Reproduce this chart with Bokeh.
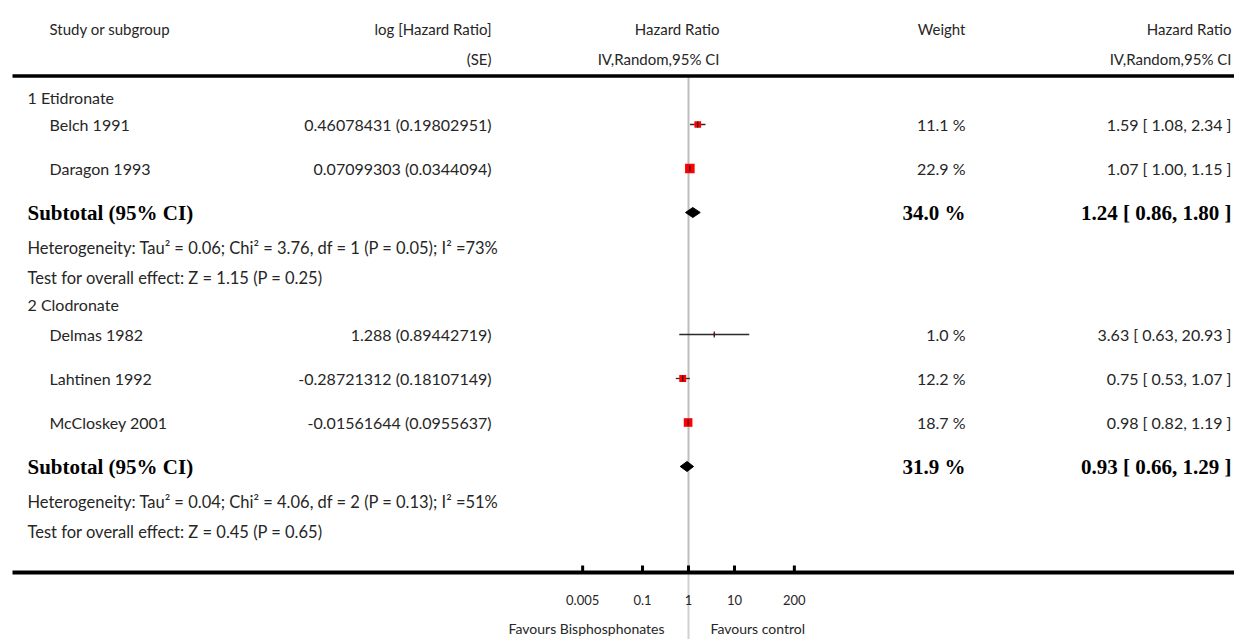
from bokeh.plotting import figure
from bokeh.models import Range1d, LogScale
from bokeh.core.properties import value
from bokeh.embed import file_html
from bokeh.resources import INLINE
import math

# ---------------- data ----------------
group_names = ["1 Etidronate", "2 Clodronate"]
studies = ["Belch 1991", "Daragon 1993", "Delmas 1982", "Lahtinen 1992", "McCloskey 2001"]
log_hr = [0.46078431, 0.07099303, 1.288, -0.28721312, -0.01561644]
log_se = [0.19802951, 0.0344094, 0.89442719, 0.18107149, 0.0955637]
weights = [11.1, 22.9, 1.0, 12.2, 18.7]
hr = [1.59, 1.07, 3.63, 0.75, 0.98]
hr_lo = [1.08, 1.00, 0.63, 0.53, 0.82]
hr_hi = [2.34, 1.15, 20.93, 1.07, 1.19]
sub_weight = [34.0, 31.9]
sub_hr = [1.24, 0.93]
sub_lo = [0.86, 0.66]
sub_hi = [1.80, 1.29]
heterogeneity = [
    "Heterogeneity: Tau\u00b2 = 0.06; Chi\u00b2 = 3.76, df = 1 (P = 0.05); I\u00b2 =73%",
    "Heterogeneity: Tau\u00b2 = 0.04; Chi\u00b2 = 4.06, df = 2 (P = 0.13); I\u00b2 =51%",
]
overall = [
    "Test for overall effect: Z = 1.15 (P = 0.25)",
    "Test for overall effect: Z = 0.45 (P = 0.65)",
]
tick_values = [0.005, 0.1, 1, 10, 200]
tick_labels = ["0.005", "0.1", "1", "10", "200"]
favours = ["Favours Bisphosphonates", "Favours control"]

# ---------------- layout (rows, columns) ----------------
W, H = 1234, 639
study_rows = [124, 168, 334, 378, 422]
group_rows = [97, 304]
sub_rows = [212, 466]
het_rows = [247, 501]
test_rows = [277, 531]
head_rows = [28, 58]
top_rule, axis_row, tick_row, fav_row = 75.5, 572, 599, 628
x_group, x_study, x_se, x_plot_hdr, x_weight, x_ci = 27, 49, 491, 719, 965, 1231
hr_one_px, px_per_decade = 688, 46

FONT = value("Lato")
SERIF = value("Liberation Serif")
TXT = "#262626"
FS = "16px"
FS_NOTE = "16.5px"
FS_HEAD = "15px"
FS_SUB = "21px"

p = figure(width=W, height=H, output_backend="svg", toolbar_location=None,
           x_range=Range1d(0, W), y_range=Range1d(H, 0),
           x_axis_location=None, y_axis_location=None, min_border=0,
           outline_line_color=None, background_fill_color="white")
p.grid.visible = False
p.extra_x_ranges = {"hr": Range1d(10 ** (-hr_one_px / px_per_decade),
                                  10 ** ((W - hr_one_px) / px_per_decade))}
p.extra_x_scales = {"hr": LogScale()}

# line of no effect
p.segment(x0=[1], x1=[1], y0=[top_rule], y1=[axis_row], x_range_name="hr",
          line_color="#bdbdbd", line_width=2)
p.segment(x0=[1], x1=[1], y0=[axis_row], y1=[H], x_range_name="hr",
          line_color="#d0d0d0", line_width=2)

# rules
p.segment(x0=[12], x1=[W], y0=[top_rule], y1=[top_rule], line_color="black", line_width=3.5)
p.segment(x0=[12], x1=[W], y0=[axis_row], y1=[axis_row], line_color="black", line_width=4)


def txt(x, y, t, align, size=FS, font=FONT, style="normal", color=TXT, **kw):
    p.text(x=x, y=y, text=t, text_align=align, text_baseline="middle",
           text_font=font, text_font_size=size, text_font_style=style,
           text_color=color, **kw)


# header
txt([x_study], [head_rows[0]], ["Study or subgroup"], "left", size=FS_HEAD)
txt([x_se, x_se], head_rows, ["log [Hazard Ratio]", "(SE)"], "right", size=FS_HEAD)
txt([x_plot_hdr, x_plot_hdr], head_rows, ["Hazard Ratio", "IV,Random,95% CI"], "right",
    size=FS_HEAD)
txt([x_weight], [head_rows[0]], ["Weight"], "right", size=FS_HEAD)
txt([x_ci, x_ci], head_rows, ["Hazard Ratio", "IV,Random,95% CI"], "right", size=FS_HEAD)

# groups and notes
txt([x_group] * 2, group_rows, group_names, "left")
txt([x_group] * 2, het_rows, heterogeneity, "left", size=FS_NOTE)
txt([x_group] * 2, test_rows, overall, "left", size=FS_NOTE)

# studies
txt([x_study] * len(studies), study_rows, studies, "left")
txt([x_se] * len(studies), study_rows,
    [f"{a} ({b})" for a, b in zip(log_hr, log_se)], "right")
txt([x_weight] * len(studies), study_rows, [f"{w:.1f} %" for w in weights], "right")
txt([x_ci] * len(studies), study_rows,
    [f"{h:.2f} [ {l:.2f}, {u:.2f} ]" for h, l, u in zip(hr, hr_lo, hr_hi)], "right")

# CI lines, squares, point ticks
p.segment(x0=hr_lo, x1=hr_hi, y0=study_rows, y1=study_rows, x_range_name="hr",
          line_color="#2a2a2a", line_width=1.3)
p.scatter(x=hr, y=study_rows, marker="square", x_range_name="hr",
          size=[2.0 * math.sqrt(w) for w in weights], fill_color="#ff0000", line_color=None)
p.segment(x0=hr, x1=hr, y0=[y - 3 for y in study_rows], y1=[y + 3 for y in study_rows],
          x_range_name="hr", line_color="#1a1a1a", line_width=1.2)

# subtotals
txt([x_group] * 2, sub_rows, ["Subtotal (95% CI)"] * 2, "left", size=FS_SUB, font=SERIF,
    style="bold", color="black")
txt([x_weight] * 2, sub_rows, [f"{w:.1f} %" for w in sub_weight], "right", size=FS_SUB,
    font=SERIF, style="bold", color="black")
txt([x_ci] * 2, sub_rows,
    [f"{h:.2f} [ {l:.2f}, {u:.2f} ]" for h, l, u in zip(sub_hr, sub_lo, sub_hi)], "right",
    size=FS_SUB, font=SERIF, style="bold", color="black")
p.patches(xs=[[l, h, u, h] for h, l, u in zip(sub_hr, sub_lo, sub_hi)],
          ys=[[y, y - 5, y, y + 5] for y in sub_rows], x_range_name="hr",
          fill_color="black", line_color="black", line_width=1)

# axis ticks and labels
p.segment(x0=tick_values, x1=tick_values, y0=[axis_row - 7] * len(tick_values),
          y1=[axis_row] * len(tick_values), x_range_name="hr",
          line_color="black", line_width=3)
p.text(x=tick_values, y=[tick_row] * len(tick_values), text=tick_labels, x_range_name="hr",
       text_align="center", text_baseline="middle", text_font=FONT,
       text_font_size="13px", text_color=TXT)
p.text(x=[1, 1], y=[fav_row, fav_row], text=favours, x_range_name="hr",
       text_align=["right", "left"], text_baseline="middle", text_font=FONT,
       text_font_size="14px", text_color=TXT, x_offset=[-24, 22])

open("out.html", "w").write(file_html(p, INLINE))
